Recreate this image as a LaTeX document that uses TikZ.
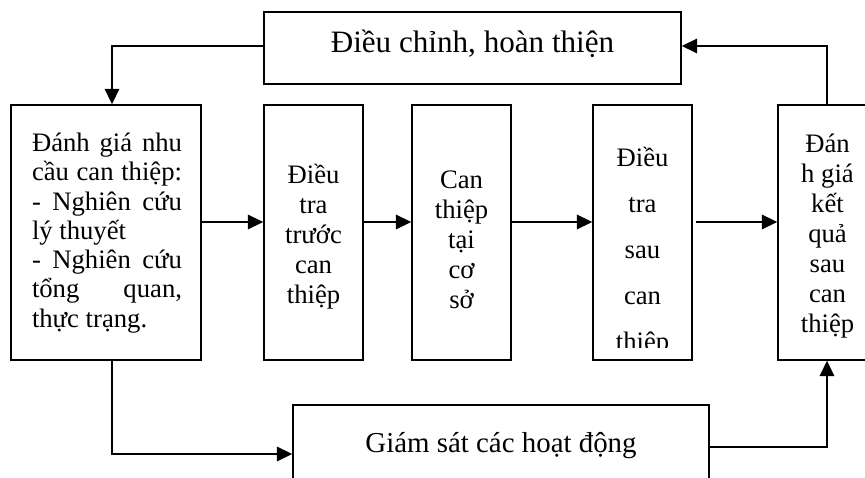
\documentclass[tikz,border=0pt]{standalone}
\usepackage{fontspec}
\setmainfont{Liberation Serif}
\usetikzlibrary{arrows.meta,calc}
\begin{document}
\begin{tikzpicture}[x=0.45pt,y=-0.45pt,
  box/.style={draw, line width=0.6pt, rectangle, inner sep=0pt},
  colbox/.style={box, minimum width=44.55pt, minimum height=114.75pt},
  conn/.style={line width=0.9pt},
  arr/.style={conn, -{Triangle[length=7pt,width=6.5pt]}},
  body/.style={font=\fontsize{12}{13.5}\selectfont, align=center, inner sep=0pt}]
\useasboundingbox (0,0) rectangle (865,478);
% boxes
\node[box, minimum width=187.65pt, minimum height=32.4pt] (top) at (472.5,48) {};
\node[box, minimum width=85.5pt, minimum height=114.75pt] (b1) at (106,232.5) {};
\node[colbox] (b2) at (313.5,232.5) {};
\node[colbox] (b3) at (461.5,232.5) {};
\node[colbox] (b4) at (642.5,232.5) {};
\node[colbox] (b5) at (827.5,232.5) {};
\node[box, minimum width=187.2pt, minimum height=38.7pt] (bot) at (501,448) {};
% texts
\node[anchor=base, inner sep=0pt, font=\fontsize{14}{16}\selectfont] (toptext) at (472.5,53) {Điều chỉnh, hoàn thiện};
\node[anchor=base, inner sep=0pt, font=\fontsize{13}{15}\selectfont] (bottext) at (501,453) {Giám sát các hoạt động};
\node[body, align=left, font=\fontsize{12}{13.15}\selectfont] (t1) at (107,233) {%
\makebox[67.5pt][s]{Đánh giá nhu}\\
\makebox[67.5pt][s]{cầu can thiệp:}\\
\makebox[67.5pt][s]{- Nghiên cứu}\\
\makebox[67.5pt][l]{lý thuyết}\\
\makebox[67.5pt][s]{- Nghiên cứu}\\
\makebox[67.5pt][s]{tổng quan,}\\
\makebox[67.5pt][l]{thực trạng.}};
\node[body] (t2) at (313.5,237) {Điều\\tra\\trước\\can\\thiệp};
\node[body] (t3) at (461.5,240) {Can\\thiệp\\tại\\cơ\\sở};
\begin{scope}
\clip (593,105) rectangle (692,348);
\node[body, font=\fontsize{12}{20.7}\selectfont] (t4) at (642.5,252) {Điều\\tra\\sau\\can\\thiệp};
\end{scope}
\node[body] (t5) at (827.5,236) {Đán\\h giá\\kết\\quả\\sau\\can\\thiệp};
% helper coordinates
\coordinate (rowy) at (0,222);
\coordinate (loopy) at (0,46);
\coordinate (lowy) at (0,454);
\coordinate (outy) at (0,447);
\coordinate (b1x) at (112,0);
\coordinate (b5x) at (827,0);
% connectors
\draw[arr] (top.west |- loopy) -| (b1x |- b1.north);
\draw[arr] (b5x |- b5.north) |- (top.east |- loopy);
\draw[arr] (b1.east |- rowy) -- (b2.west |- rowy);
\draw[arr] (b2.east |- rowy) -- (b3.west |- rowy);
\draw[arr] (b3.east |- rowy) -- (b4.west |- rowy);
\draw[arr, shorten <=1.35pt] (b4.east |- rowy) -- (b5.west |- rowy);
\draw[arr] (b1x |- b1.south) |- (bot.west |- lowy);
\draw[arr] (bot.east |- outy) -| (b5x |- b5.south);
\end{tikzpicture}
\end{document}
